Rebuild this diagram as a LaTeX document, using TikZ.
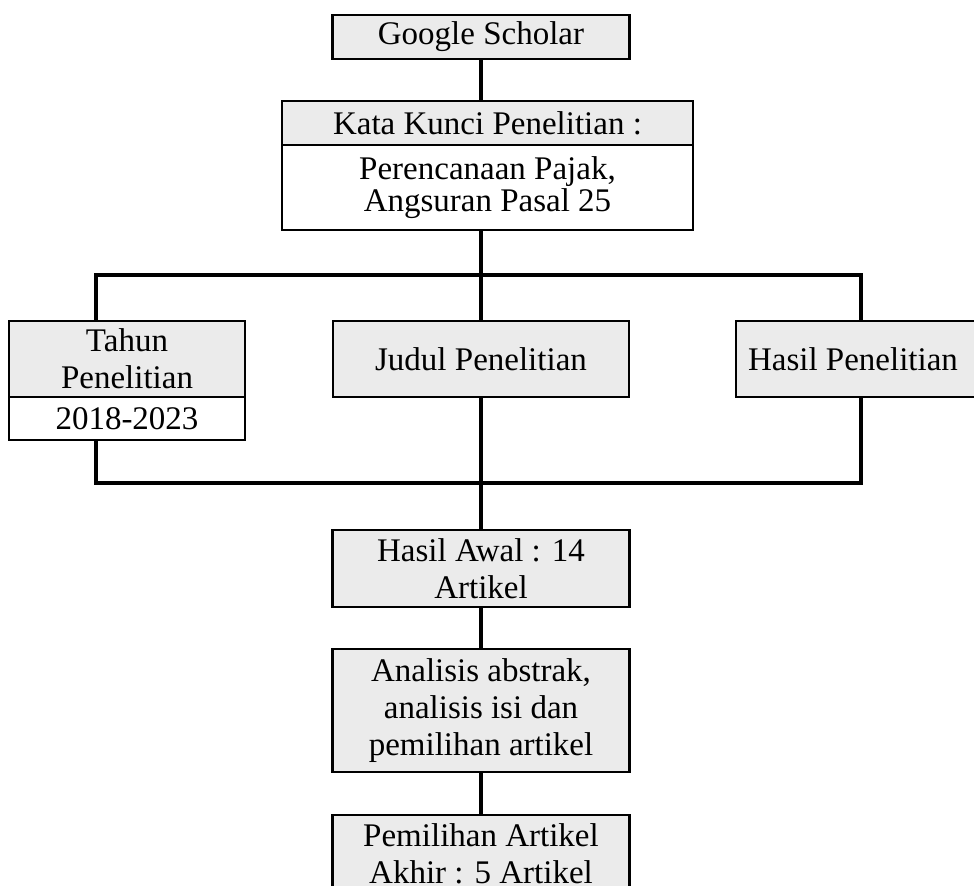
\documentclass[tikz,border=0pt]{standalone}
\usepackage{fontspec}
\setmainfont{Liberation Serif}
\usepackage{xcolor}
\usepackage{tikz}
\usetikzlibrary{backgrounds}
\definecolor{boxgray}{RGB}{235, 235, 235}
\tikzset{
    box/.style={draw, line width=1.2pt, fill=boxgray, align=center, inner sep=0pt, outer sep=0pt,
        font=\fontsize{16.5}{18.5}\selectfont},
    boxwhite/.style={box, fill=white},
    link/.style={line width=2pt}
}

\begin{document}
\begin{tikzpicture}[x=0.5pt, y=-0.5pt]
    \useasboundingbox (0,0) rectangle (974,886);
    \clip (0,0) rectangle (974,886);

    % top of the search
    \node[box, minimum width=148.5pt, minimum height=22pt] (scholar) at (481,37) {Google Scholar};
    \node[box, minimum width=205.5pt, minimum height=22pt] (kata) at (487.5,123) {Kata Kunci Penelitian :};
    \node[boxwhite, minimum width=205.5pt, minimum height=42.5pt, anchor=north,
        font=\fontsize{16.5}{14}\selectfont] (kataisi) at (kata.south)
        {Perencanaan Pajak,\\Angsuran Pasal 25};

    % criteria
    \node[box, minimum width=118pt, minimum height=38pt] (tahun) at (127,359) {Tahun\\Penelitian};
    \node[boxwhite, minimum width=118pt, minimum height=21.5pt, anchor=north] (tahunisi) at (tahun.south) {2018-2023};
    \node[box, minimum width=148pt, minimum height=38pt] (judul) at (481,359) {Judul Penelitian};
    \node[box, minimum width=130pt, minimum height=38pt, anchor=west] (hasilpen) at (736,359) {\hspace*{-13pt}Hasil Penelitian};

    % selection
    \node[box, minimum width=148.5pt, minimum height=38.5pt] (awal) at (481,568.5) {Hasil Awal : 14\\Artikel};
    \node[box, minimum width=148.5pt, minimum height=61.5pt] (analisis) at (481,710.5) {Analisis abstrak,\\analisis isi dan\\pemilihan artikel};
    \node[box, minimum width=148.5pt, minimum height=38.5pt, anchor=north] (akhir) at (481,815) {Pemilihan Artikel\\Akhir : 5 Artikel};

    \coordinate (tl) at (96,275);
    \coordinate (tr) at (861,275);
    \coordinate (bl) at (96,483);
    \coordinate (br) at (861,483);

    \begin{scope}[on background layer]
        \draw[link] (scholar) -- (kata.north -| scholar);
        \draw[link] (kataisi.south -| judul) -- (judul);
        \draw[link] (tahun.north -| tl) -- (tl) -- (tr) -- (hasilpen.north -| tr);
        \draw[link] (tahunisi.south -| bl) -- (bl) -- (br) -- (hasilpen.south -| br);
        \draw[link] (judul) -- (awal);
        \draw[link] (awal) -- (analisis);
        \draw[link] (analisis) -- (akhir);
    \end{scope}
\end{tikzpicture}
\end{document}
